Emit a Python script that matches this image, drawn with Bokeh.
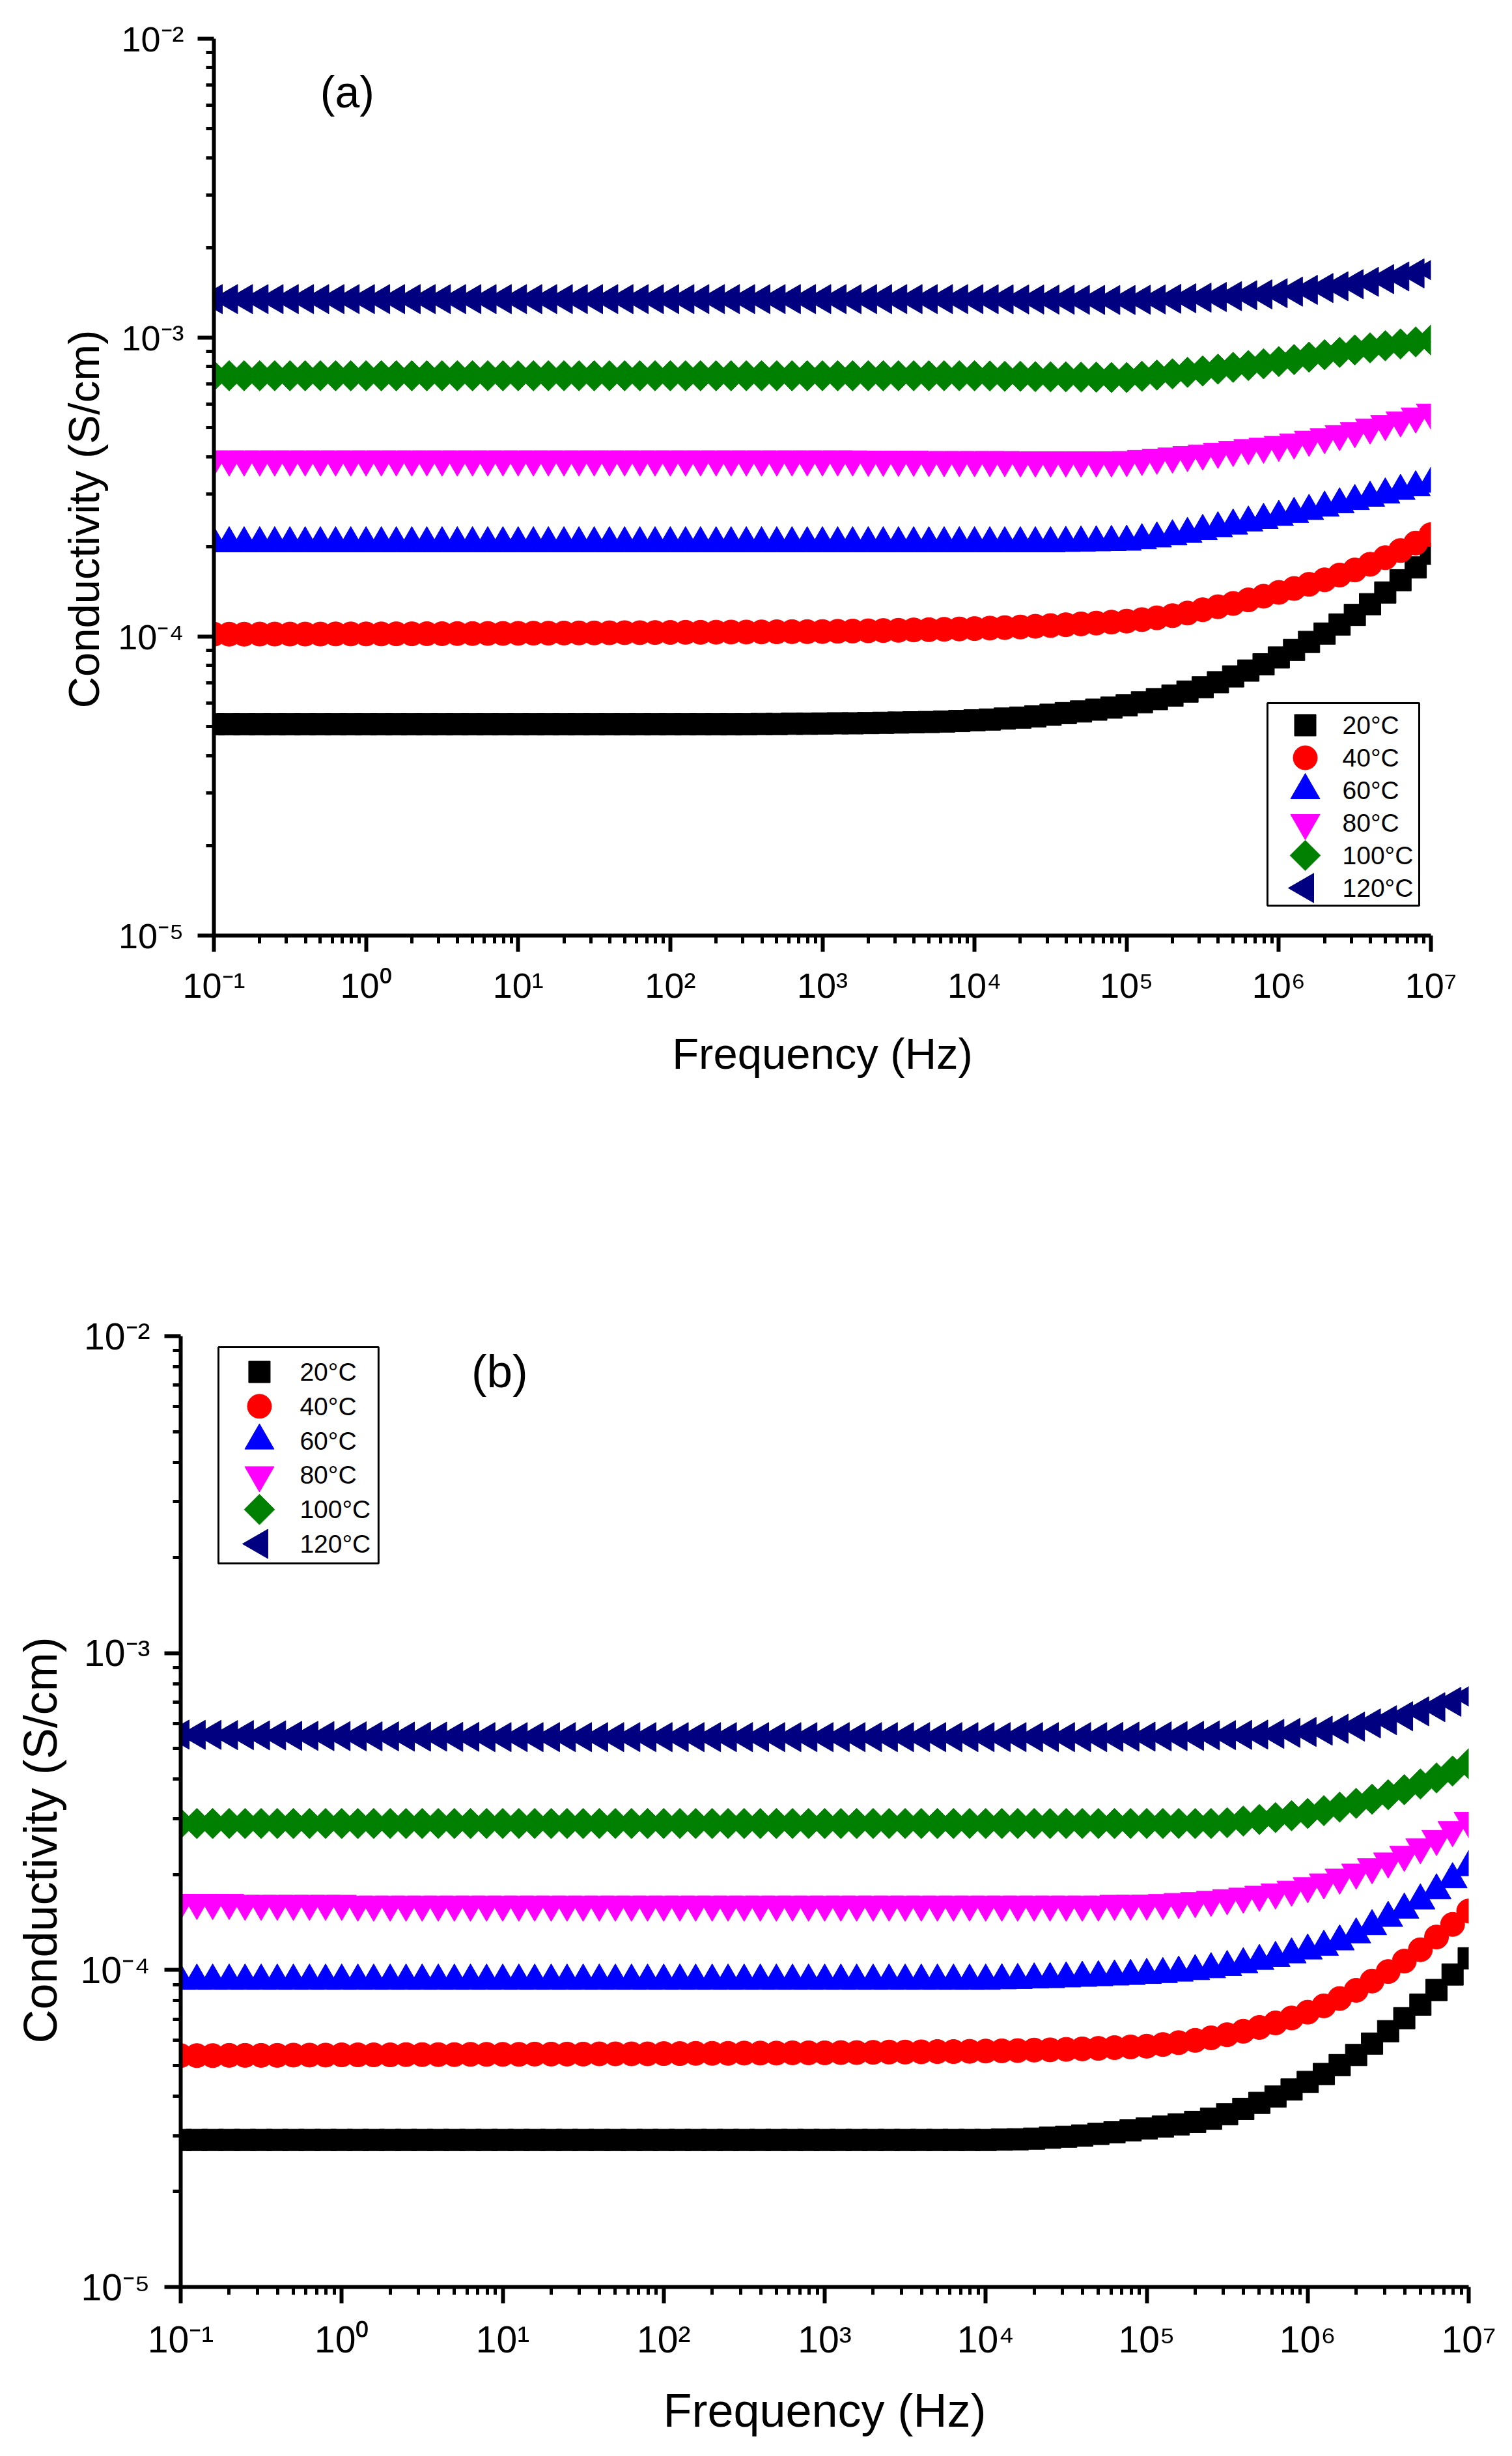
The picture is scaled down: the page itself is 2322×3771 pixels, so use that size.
from math import pi

from bokeh.embed import file_html
from bokeh.models import (BoxAnnotation, ColumnDataSource, CustomJSTickFormatter,
                          FixedTicker, Label, LinearScale, Range1d, Title)
from bokeh.plotting import figure
from bokeh.resources import INLINE

FONT = "Liberation Sans"

# frequency of every measured point (Hz), 10 per decade
freq = [
    0.1, 0.126, 0.158, 0.2, 0.251, 0.316, 0.398, 0.501, 0.631, 0.794,
    1.0, 1.26, 1.58, 2.0, 2.51, 3.16, 3.98, 5.01, 6.31, 7.94,
    10.0, 12.6, 15.8, 20.0, 25.1, 31.6, 39.8, 50.1, 63.1, 79.4,
    100.0, 126.0, 158.0, 200.0, 251.0, 316.0, 398.0, 501.0, 631.0, 794.0,
    1.0e3, 1.26e3, 1.58e3, 2.0e3, 2.51e3, 3.16e3, 3.98e3, 5.01e3, 6.31e3, 7.94e3,
    1.0e4, 1.26e4, 1.58e4, 2.0e4, 2.51e4, 3.16e4, 3.98e4, 5.01e4, 6.31e4, 7.94e4,
    1.0e5, 1.26e5, 1.58e5, 2.0e5, 2.51e5, 3.16e5, 3.98e5, 5.01e5, 6.31e5, 7.94e5,
    1.0e6, 1.26e6, 1.58e6, 2.0e6, 2.51e6, 3.16e6, 3.98e6, 5.01e6, 6.31e6, 7.94e6,
    1.0e7,
]

temps = ["20°C", "40°C", "60°C", "80°C", "100°C", "120°C"]
colors = ["#000000", "#FF0000", "#0000FF", "#FF00FF", "#008000", "#000080"]

# conductivity (S/cm), panel (a)
sigma_a_20C = [
    5.09e-5, 5.09e-5, 5.09e-5, 5.09e-5, 5.09e-5, 5.09e-5, 5.09e-5, 5.09e-5, 5.09e-5, 5.09e-5,
    5.09e-5, 5.09e-5, 5.09e-5, 5.09e-5, 5.09e-5, 5.09e-5, 5.09e-5, 5.09e-5, 5.09e-5, 5.09e-5,
    5.09e-5, 5.09e-5, 5.09e-5, 5.09e-5, 5.09e-5, 5.09e-5, 5.09e-5, 5.09e-5, 5.09e-5, 5.09e-5,
    5.09e-5, 5.09e-5, 5.09e-5, 5.09e-5, 5.09e-5, 5.09e-5, 5.10e-5, 5.10e-5, 5.11e-5, 5.11e-5,
    5.12e-5, 5.13e-5, 5.13e-5, 5.14e-5, 5.15e-5, 5.16e-5, 5.17e-5, 5.18e-5, 5.20e-5, 5.22e-5,
    5.25e-5, 5.28e-5, 5.32e-5, 5.36e-5, 5.41e-5, 5.48e-5, 5.55e-5, 5.62e-5, 5.70e-5, 5.79e-5,
    5.89e-5, 6.03e-5, 6.18e-5, 6.35e-5, 6.55e-5, 6.77e-5, 7.04e-5, 7.36e-5, 7.70e-5, 8.08e-5,
    8.52e-5, 9.03e-5, 9.60e-5, 1.024e-4, 1.098e-4, 1.182e-4, 1.284e-4, 1.405e-4, 1.544e-4, 1.704e-4,
    1.894e-4,
]
sigma_a_40C = [
    1.019e-4, 1.019e-4, 1.019e-4, 1.020e-4, 1.020e-4, 1.020e-4, 1.020e-4, 1.020e-4, 1.021e-4, 1.021e-4,
    1.021e-4, 1.021e-4, 1.022e-4, 1.022e-4, 1.023e-4, 1.023e-4, 1.024e-4, 1.024e-4, 1.025e-4, 1.025e-4,
    1.026e-4, 1.027e-4, 1.027e-4, 1.028e-4, 1.029e-4, 1.029e-4, 1.030e-4, 1.031e-4, 1.031e-4, 1.032e-4,
    1.033e-4, 1.034e-4, 1.034e-4, 1.035e-4, 1.036e-4, 1.036e-4, 1.037e-4, 1.038e-4, 1.039e-4, 1.039e-4,
    1.040e-4, 1.042e-4, 1.044e-4, 1.046e-4, 1.048e-4, 1.050e-4, 1.053e-4, 1.055e-4, 1.058e-4, 1.061e-4,
    1.064e-4, 1.068e-4, 1.072e-4, 1.077e-4, 1.083e-4, 1.089e-4, 1.096e-4, 1.103e-4, 1.110e-4, 1.118e-4,
    1.127e-4, 1.140e-4, 1.156e-4, 1.175e-4, 1.199e-4, 1.230e-4, 1.259e-4, 1.291e-4, 1.327e-4, 1.365e-4,
    1.406e-4, 1.449e-4, 1.496e-4, 1.549e-4, 1.607e-4, 1.671e-4, 1.746e-4, 1.837e-4, 1.941e-4, 2.056e-4,
    2.193e-4,
]
sigma_a_60C = [
    2.05e-4, 2.05e-4, 2.05e-4, 2.05e-4, 2.05e-4, 2.05e-4, 2.05e-4, 2.05e-4, 2.05e-4, 2.05e-4,
    2.05e-4, 2.05e-4, 2.05e-4, 2.05e-4, 2.05e-4, 2.05e-4, 2.05e-4, 2.05e-4, 2.05e-4, 2.05e-4,
    2.05e-4, 2.05e-4, 2.05e-4, 2.05e-4, 2.05e-4, 2.05e-4, 2.05e-4, 2.05e-4, 2.05e-4, 2.05e-4,
    2.05e-4, 2.05e-4, 2.05e-4, 2.05e-4, 2.05e-4, 2.05e-4, 2.05e-4, 2.05e-4, 2.05e-4, 2.05e-4,
    2.05e-4, 2.05e-4, 2.05e-4, 2.05e-4, 2.05e-4, 2.05e-4, 2.05e-4, 2.05e-4, 2.05e-4, 2.05e-4,
    2.05e-4, 2.05e-4, 2.05e-4, 2.05e-4, 2.05e-4, 2.05e-4, 2.056e-4, 2.061e-4, 2.065e-4, 2.070e-4,
    2.075e-4, 2.099e-4, 2.128e-4, 2.163e-4, 2.203e-4, 2.254e-4, 2.301e-4, 2.350e-4, 2.404e-4, 2.455e-4,
    2.512e-4, 2.570e-4, 2.630e-4, 2.698e-4, 2.767e-4, 2.838e-4, 2.911e-4, 2.985e-4, 3.069e-4, 3.155e-4,
    3.243e-4,
]
sigma_a_80C = [
    3.92e-4, 3.92e-4, 3.92e-4, 3.92e-4, 3.92e-4, 3.92e-4, 3.92e-4, 3.92e-4, 3.92e-4, 3.92e-4,
    3.92e-4, 3.92e-4, 3.92e-4, 3.92e-4, 3.92e-4, 3.92e-4, 3.92e-4, 3.92e-4, 3.92e-4, 3.92e-4,
    3.92e-4, 3.92e-4, 3.92e-4, 3.92e-4, 3.92e-4, 3.92e-4, 3.92e-4, 3.92e-4, 3.92e-4, 3.92e-4,
    3.92e-4, 3.92e-4, 3.92e-4, 3.92e-4, 3.92e-4, 3.92e-4, 3.92e-4, 3.92e-4, 3.92e-4, 3.92e-4,
    3.92e-4, 3.92e-4, 3.92e-4, 3.91e-4, 3.91e-4, 3.91e-4, 3.91e-4, 3.90e-4, 3.90e-4, 3.90e-4,
    3.90e-4, 3.90e-4, 3.90e-4, 3.89e-4, 3.89e-4, 3.89e-4, 3.89e-4, 3.89e-4, 3.89e-4, 3.89e-4,
    3.90e-4, 3.936e-4, 3.972e-4, 4.009e-4, 4.055e-4, 4.102e-4, 4.159e-4, 4.217e-4, 4.276e-4, 4.325e-4,
    4.385e-4, 4.467e-4, 4.560e-4, 4.656e-4, 4.764e-4, 4.875e-4, 5.012e-4, 5.152e-4, 5.297e-4, 5.458e-4,
    5.623e-4,
]
sigma_a_100C = [
    7.46e-4, 7.46e-4, 7.46e-4, 7.46e-4, 7.46e-4, 7.46e-4, 7.46e-4, 7.46e-4, 7.46e-4, 7.46e-4,
    7.46e-4, 7.46e-4, 7.46e-4, 7.46e-4, 7.46e-4, 7.46e-4, 7.46e-4, 7.46e-4, 7.46e-4, 7.46e-4,
    7.46e-4, 7.46e-4, 7.46e-4, 7.46e-4, 7.46e-4, 7.46e-4, 7.46e-4, 7.46e-4, 7.46e-4, 7.46e-4,
    7.46e-4, 7.46e-4, 7.46e-4, 7.46e-4, 7.46e-4, 7.46e-4, 7.46e-4, 7.46e-4, 7.46e-4, 7.46e-4,
    7.46e-4, 7.46e-4, 7.46e-4, 7.46e-4, 7.46e-4, 7.46e-4, 7.46e-4, 7.46e-4, 7.46e-4, 7.46e-4,
    7.46e-4, 7.45e-4, 7.43e-4, 7.43e-4, 7.41e-4, 7.40e-4, 7.40e-4, 7.38e-4, 7.38e-4, 7.36e-4,
    7.36e-4, 7.43e-4, 7.50e-4, 7.57e-4, 7.66e-4, 7.74e-4, 7.85e-4, 7.96e-4, 8.07e-4, 8.18e-4,
    8.32e-4, 8.45e-4, 8.61e-4, 8.77e-4, 8.93e-4, 9.10e-4, 9.25e-4, 9.40e-4, 9.53e-4, 9.68e-4,
    9.82e-4,
]
sigma_a_120C = [
    1.346e-3, 1.346e-3, 1.346e-3, 1.346e-3, 1.346e-3, 1.346e-3, 1.346e-3, 1.346e-3, 1.346e-3, 1.346e-3,
    1.346e-3, 1.346e-3, 1.346e-3, 1.346e-3, 1.346e-3, 1.346e-3, 1.346e-3, 1.346e-3, 1.346e-3, 1.346e-3,
    1.346e-3, 1.346e-3, 1.346e-3, 1.346e-3, 1.346e-3, 1.346e-3, 1.346e-3, 1.346e-3, 1.346e-3, 1.346e-3,
    1.346e-3, 1.346e-3, 1.346e-3, 1.346e-3, 1.346e-3, 1.346e-3, 1.346e-3, 1.346e-3, 1.346e-3, 1.346e-3,
    1.346e-3, 1.346e-3, 1.346e-3, 1.346e-3, 1.346e-3, 1.346e-3, 1.346e-3, 1.346e-3, 1.346e-3, 1.346e-3,
    1.346e-3, 1.345e-3, 1.344e-3, 1.343e-3, 1.342e-3, 1.341e-3, 1.340e-3, 1.339e-3, 1.338e-3, 1.337e-3,
    1.337e-3, 1.340e-3, 1.343e-3, 1.349e-3, 1.355e-3, 1.361e-3, 1.368e-3, 1.377e-3, 1.387e-3, 1.396e-3,
    1.409e-3, 1.426e-3, 1.445e-3, 1.466e-3, 1.486e-3, 1.510e-3, 1.538e-3, 1.570e-3, 1.603e-3, 1.641e-3,
    1.683e-3,
]

# conductivity (S/cm), panel (b)
sigma_b_20C = [
    2.91e-5, 2.91e-5, 2.91e-5, 2.91e-5, 2.91e-5, 2.91e-5, 2.91e-5, 2.91e-5, 2.91e-5, 2.91e-5,
    2.91e-5, 2.91e-5, 2.91e-5, 2.91e-5, 2.91e-5, 2.91e-5, 2.91e-5, 2.91e-5, 2.91e-5, 2.91e-5,
    2.91e-5, 2.91e-5, 2.91e-5, 2.91e-5, 2.91e-5, 2.91e-5, 2.91e-5, 2.91e-5, 2.91e-5, 2.91e-5,
    2.91e-5, 2.91e-5, 2.91e-5, 2.91e-5, 2.91e-5, 2.91e-5, 2.91e-5, 2.91e-5, 2.91e-5, 2.91e-5,
    2.91e-5, 2.91e-5, 2.91e-5, 2.91e-5, 2.91e-5, 2.91e-5, 2.91e-5, 2.91e-5, 2.91e-5, 2.91e-5,
    2.91e-5, 2.917e-5, 2.924e-5, 2.938e-5, 2.958e-5, 2.979e-5, 3.006e-5, 3.041e-5, 3.076e-5, 3.119e-5,
    3.162e-5, 3.206e-5, 3.258e-5, 3.319e-5, 3.396e-5, 3.508e-5, 3.648e-5, 3.811e-5, 3.990e-5, 4.198e-5,
    4.436e-5, 4.699e-5, 5.012e-5, 5.395e-5, 5.861e-5, 6.412e-5, 7.047e-5, 7.780e-5, 8.650e-5, 9.683e-5,
    1.089e-4,
]
sigma_b_40C = [
    5.37e-5, 5.37e-5, 5.37e-5, 5.38e-5, 5.38e-5, 5.38e-5, 5.38e-5, 5.39e-5, 5.39e-5, 5.39e-5,
    5.40e-5, 5.40e-5, 5.40e-5, 5.40e-5, 5.41e-5, 5.41e-5, 5.41e-5, 5.41e-5, 5.42e-5, 5.42e-5,
    5.42e-5, 5.42e-5, 5.43e-5, 5.43e-5, 5.43e-5, 5.43e-5, 5.44e-5, 5.44e-5, 5.44e-5, 5.44e-5,
    5.45e-5, 5.45e-5, 5.46e-5, 5.46e-5, 5.46e-5, 5.47e-5, 5.47e-5, 5.47e-5, 5.48e-5, 5.48e-5,
    5.48e-5, 5.49e-5, 5.49e-5, 5.50e-5, 5.51e-5, 5.51e-5, 5.52e-5, 5.53e-5, 5.53e-5, 5.54e-5,
    5.55e-5, 5.56e-5, 5.57e-5, 5.59e-5, 5.60e-5, 5.62e-5, 5.64e-5, 5.66e-5, 5.69e-5, 5.72e-5,
    5.75e-5, 5.82e-5, 5.90e-5, 6.00e-5, 6.11e-5, 6.25e-5, 6.41e-5, 6.59e-5, 6.81e-5, 7.06e-5,
    7.36e-5, 7.71e-5, 8.13e-5, 8.63e-5, 9.23e-5, 9.89e-5, 1.067e-4, 1.159e-4, 1.271e-4, 1.393e-4,
    1.535e-4,
]
sigma_b_60C = [
    9.25e-5, 9.25e-5, 9.25e-5, 9.25e-5, 9.25e-5, 9.25e-5, 9.25e-5, 9.25e-5, 9.25e-5, 9.25e-5,
    9.25e-5, 9.25e-5, 9.25e-5, 9.25e-5, 9.25e-5, 9.25e-5, 9.25e-5, 9.25e-5, 9.25e-5, 9.25e-5,
    9.25e-5, 9.25e-5, 9.25e-5, 9.25e-5, 9.25e-5, 9.25e-5, 9.25e-5, 9.25e-5, 9.25e-5, 9.25e-5,
    9.25e-5, 9.25e-5, 9.25e-5, 9.25e-5, 9.25e-5, 9.25e-5, 9.25e-5, 9.25e-5, 9.25e-5, 9.25e-5,
    9.25e-5, 9.25e-5, 9.25e-5, 9.25e-5, 9.25e-5, 9.25e-5, 9.25e-5, 9.25e-5, 9.25e-5, 9.25e-5,
    9.25e-5, 9.27e-5, 9.29e-5, 9.33e-5, 9.35e-5, 9.40e-5, 9.44e-5, 9.48e-5, 9.53e-5, 9.57e-5,
    9.64e-5, 9.70e-5, 9.80e-5, 9.91e-5, 1.005e-4, 1.021e-4, 1.042e-4, 1.067e-4, 1.091e-4, 1.119e-4,
    1.151e-4, 1.183e-4, 1.230e-4, 1.294e-4, 1.374e-4, 1.459e-4, 1.549e-4, 1.656e-4, 1.782e-4, 1.932e-4,
    2.109e-4,
]
sigma_b_80C = [
    1.63e-4, 1.63e-4, 1.63e-4, 1.63e-4, 1.62e-4, 1.62e-4, 1.62e-4, 1.62e-4, 1.62e-4, 1.62e-4,
    1.62e-4, 1.61e-4, 1.61e-4, 1.61e-4, 1.61e-4, 1.61e-4, 1.61e-4, 1.61e-4, 1.61e-4, 1.61e-4,
    1.61e-4, 1.61e-4, 1.61e-4, 1.61e-4, 1.61e-4, 1.61e-4, 1.61e-4, 1.61e-4, 1.61e-4, 1.61e-4,
    1.61e-4, 1.61e-4, 1.61e-4, 1.61e-4, 1.61e-4, 1.61e-4, 1.61e-4, 1.61e-4, 1.61e-4, 1.61e-4,
    1.61e-4, 1.61e-4, 1.61e-4, 1.61e-4, 1.61e-4, 1.61e-4, 1.61e-4, 1.61e-4, 1.61e-4, 1.61e-4,
    1.61e-4, 1.61e-4, 1.61e-4, 1.61e-4, 1.61e-4, 1.61e-4, 1.61e-4, 1.61e-4, 1.62e-4, 1.62e-4,
    1.622e-4, 1.629e-4, 1.641e-4, 1.652e-4, 1.667e-4, 1.687e-4, 1.706e-4, 1.730e-4, 1.758e-4, 1.795e-4,
    1.841e-4, 1.892e-4, 1.959e-4, 2.032e-4, 2.113e-4, 2.203e-4, 2.312e-4, 2.443e-4, 2.594e-4, 2.767e-4,
    2.958e-4,
]
sigma_b_100C = [
    2.90e-4, 2.90e-4, 2.90e-4, 2.90e-4, 2.90e-4, 2.90e-4, 2.90e-4, 2.90e-4, 2.90e-4, 2.90e-4,
    2.90e-4, 2.90e-4, 2.90e-4, 2.90e-4, 2.90e-4, 2.90e-4, 2.90e-4, 2.90e-4, 2.90e-4, 2.90e-4,
    2.90e-4, 2.90e-4, 2.90e-4, 2.90e-4, 2.90e-4, 2.90e-4, 2.90e-4, 2.90e-4, 2.90e-4, 2.90e-4,
    2.90e-4, 2.90e-4, 2.90e-4, 2.90e-4, 2.90e-4, 2.90e-4, 2.90e-4, 2.90e-4, 2.90e-4, 2.90e-4,
    2.90e-4, 2.90e-4, 2.90e-4, 2.90e-4, 2.90e-4, 2.90e-4, 2.90e-4, 2.90e-4, 2.90e-4, 2.90e-4,
    2.90e-4, 2.90e-4, 2.90e-4, 2.90e-4, 2.90e-4, 2.90e-4, 2.90e-4, 2.90e-4, 2.90e-4, 2.90e-4,
    2.90e-4, 2.90e-4, 2.90e-4, 2.90e-4, 2.90e-4, 2.917e-4, 2.951e-4, 2.985e-4, 3.027e-4, 3.069e-4,
    3.119e-4, 3.184e-4, 3.266e-4, 3.357e-4, 3.459e-4, 3.573e-4, 3.707e-4, 3.864e-4, 4.036e-4, 4.246e-4,
    4.477e-4,
]
sigma_b_120C = [
    5.53e-4, 5.52e-4, 5.52e-4, 5.51e-4, 5.51e-4, 5.50e-4, 5.50e-4, 5.48e-4, 5.48e-4, 5.47e-4,
    5.47e-4, 5.46e-4, 5.46e-4, 5.46e-4, 5.45e-4, 5.45e-4, 5.45e-4, 5.44e-4, 5.44e-4, 5.43e-4,
    5.43e-4, 5.43e-4, 5.43e-4, 5.43e-4, 5.43e-4, 5.43e-4, 5.43e-4, 5.43e-4, 5.43e-4, 5.43e-4,
    5.43e-4, 5.43e-4, 5.43e-4, 5.43e-4, 5.43e-4, 5.43e-4, 5.43e-4, 5.43e-4, 5.43e-4, 5.43e-4,
    5.43e-4, 5.43e-4, 5.43e-4, 5.43e-4, 5.43e-4, 5.43e-4, 5.43e-4, 5.43e-4, 5.43e-4, 5.43e-4,
    5.43e-4, 5.43e-4, 5.43e-4, 5.43e-4, 5.43e-4, 5.43e-4, 5.43e-4, 5.43e-4, 5.44e-4, 5.45e-4,
    5.45e-4, 5.46e-4, 5.47e-4, 5.48e-4, 5.50e-4, 5.51e-4, 5.52e-4, 5.53e-4, 5.56e-4, 5.60e-4,
    5.64e-4, 5.69e-4, 5.77e-4, 5.86e-4, 6.00e-4, 6.14e-4, 6.32e-4, 6.55e-4, 6.75e-4, 7.02e-4,
    7.30e-4,
]

series_a = [sigma_a_20C, sigma_a_40C, sigma_a_60C, sigma_a_80C, sigma_a_100C, sigma_a_120C]
series_b = [sigma_b_20C, sigma_b_40C, sigma_b_60C, sigma_b_80C, sigma_b_100C, sigma_b_120C]

# axis ticks: decades, labelled 10^n
x_tick_exp = [-1, 0, 1, 2, 3, 4, 5, 6, 7]
y_tick_exp = [-5, -4, -3, -2]

# marker style per temperature (the diamond is a square turned 45 degrees,
# the left-pointing triangle is a triangle turned 90 degrees)
markers = ["square", "circle", "triangle", "inverted_triangle", "square", "triangle"]
angles = [0, 0, 0, 0, pi / 4, pi / 2]
sizes = [33, 37, 45, 45, 33, 45]

PAGE_W = 2314

# "10" followed by the exponent in superscript digits
POW10 = CustomJSTickFormatter(code="""
    const sup = {"-": "\u207b", "0": "\u2070", "1": "\u00b9", "2": "\u00b2", "3": "\u00b3",
                 "4": "\u2074", "5": "\u2075", "6": "\u2076", "7": "\u2077",
                 "8": "\u2078", "9": "\u2079"};
    const e = Math.round(Math.log10(tick));
    return "10" + String(e).split("").map((c) => sup[c]).join("");
""")


def make_panel(series, tag, g):
    fw, fh = g["frame_w"], g["frame_h"]
    p = figure(width=PAGE_W, height=g["height"],
               x_axis_type="log", y_axis_type="log",
               x_range=Range1d(1e-1, 1e7), y_range=Range1d(1e-5, 1e-2),
               output_backend="svg", toolbar_location=None,
               min_border_left=g["left"], min_border_right=PAGE_W - g["left"] - fw,
               min_border_top=g["top"], min_border_bottom=g["height"] - g["top"] - fh)
    p.outline_line_color = None
    p.xgrid.visible = False
    p.ygrid.visible = False
    p.background_fill_color = "white"
    p.border_fill_color = "white"

    p.xaxis.ticker = FixedTicker(
        ticks=[10.0 ** k for k in x_tick_exp],
        minor_ticks=[m * 10.0 ** k for k in x_tick_exp[:-1] for m in range(2, 10)])
    p.yaxis.ticker = FixedTicker(
        ticks=[10.0 ** k for k in y_tick_exp],
        minor_ticks=[m * 10.0 ** k for k in y_tick_exp[:-1] for m in range(2, 10)])
    p.xaxis.axis_label = "Frequency (Hz)"
    for ax in (p.xaxis[0], p.yaxis[0]):
        ax.formatter = POW10
        ax.axis_line_width = 6
        ax.major_tick_line_width = 6
        ax.minor_tick_line_width = 5
        ax.major_tick_out = 25
        ax.major_tick_in = 0
        ax.minor_tick_out = 12
        ax.minor_tick_in = 0
        ax.major_label_text_font = FONT
        ax.major_label_text_font_size = f"{g['tick_fs']}px"
        ax.major_label_text_color = "black"
        ax.axis_label_text_font = FONT
        ax.axis_label_text_font_size = f"{g['title_fs']}px"
        ax.axis_label_text_font_style = "normal"
        ax.axis_label_text_color = "black"
    p.xaxis.major_label_standoff = g["x_standoff"]
    p.yaxis.major_label_standoff = g["y_standoff"]
    p.xaxis.axis_label_standoff = g["xtitle_standoff"]

    # y title starts a fixed distance above the bottom of the axis, so it sits
    # a little below the middle, as in the source figure
    p.add_layout(Title(text="Conductivity (S/cm)", align="left",
                       offset=g["ytitle_offset"], standoff=g["ytitle_standoff"],
                       text_font=FONT, text_font_size=f"{g['title_fs']}px",
                       text_font_style="normal", text_color="black"), "left")

    # data
    for vals, color, marker, angle, size in zip(series, colors, markers, angles, sizes):
        p.scatter(freq, vals, marker=marker, angle=angle, size=size,
                  fill_color=color, line_color=color, line_width=1)

    # panel tag
    p.add_layout(Label(x=g["tag_x"], y=g["tag_y"], text=tag, text_font=FONT,
                       text_font_size=f"{g['tag_fs']}px", text_align="center",
                       text_baseline="middle", text_color="black"))

    # legend, laid out in pixel coordinates of the plot frame
    p.extra_x_ranges = {"px": Range1d(0, fw)}
    p.extra_y_ranges = {"px": Range1d(0, fh)}
    p.extra_x_scales = {"px": LinearScale()}
    p.extra_y_scales = {"px": LinearScale()}
    lg = g["legend"]
    rows = [lg["row0"] - i * lg["step"] for i in range(len(temps))]
    src = ColumnDataSource(dict(x=[lg["mx"]] * len(temps), y=rows, marker=markers,
                                angle=angles, size=sizes, color=colors))
    p.scatter("x", "y", source=src, marker="marker", angle="angle", size="size",
              fill_color="color", line_color="color", line_width=1,
              x_range_name="px", y_range_name="px")
    for t, yy in zip(temps, rows):
        p.add_layout(Label(x=lg["tx"], y=yy, text=t, text_font=FONT,
                           text_font_size=f"{lg['fs']}px", text_baseline="middle",
                           text_color="black",
                           x_range_name="px", y_range_name="px"))
    p.add_layout(BoxAnnotation(left=lg["box"][0], right=lg["box"][1],
                               bottom=lg["box"][2], top=lg["box"][3],
                               x_range_name="px", y_range_name="px",
                               fill_color=None, line_color="black",
                               line_alpha=1.0, line_width=3))
    return p


geom_a = dict(height=1800, left=328, top=59, frame_w=1869, frame_h=1377,
              tick_fs=54, x_standoff=21, y_standoff=21,
              title_fs=67, xtitle_standoff=34, ytitle_standoff=26, ytitle_offset=349,
              tag_x=10 ** -0.123, tag_y=10 ** -2.177, tag_fs=68,
              legend=dict(box=(1618, 1851, 46, 357), mx=1676, tx=1733,
                          row0=323, step=50, fs=39))
geom_b = dict(height=1950, left=276, top=251, frame_w=1979, frame_h=1460,
              tick_fs=57, x_standoff=23, y_standoff=22,
              title_fs=72, xtitle_standoff=34, ytitle_standoff=38, ytitle_offset=374,
              tag_x=10 ** 0.981, tag_y=10 ** -2.111, tag_fs=71,
              legend=dict(box=(58, 304, 1111, 1443), mx=121, tx=183,
                          row0=1405, step=52.8, fs=39))

pa = make_panel(series_a, "(a)", geom_a)
pb = make_panel(series_b, "(b)", geom_b)

# two separate roots, so the two frames keep their own widths
open("out.html", "w").write(file_html([pa, pb], INLINE))
